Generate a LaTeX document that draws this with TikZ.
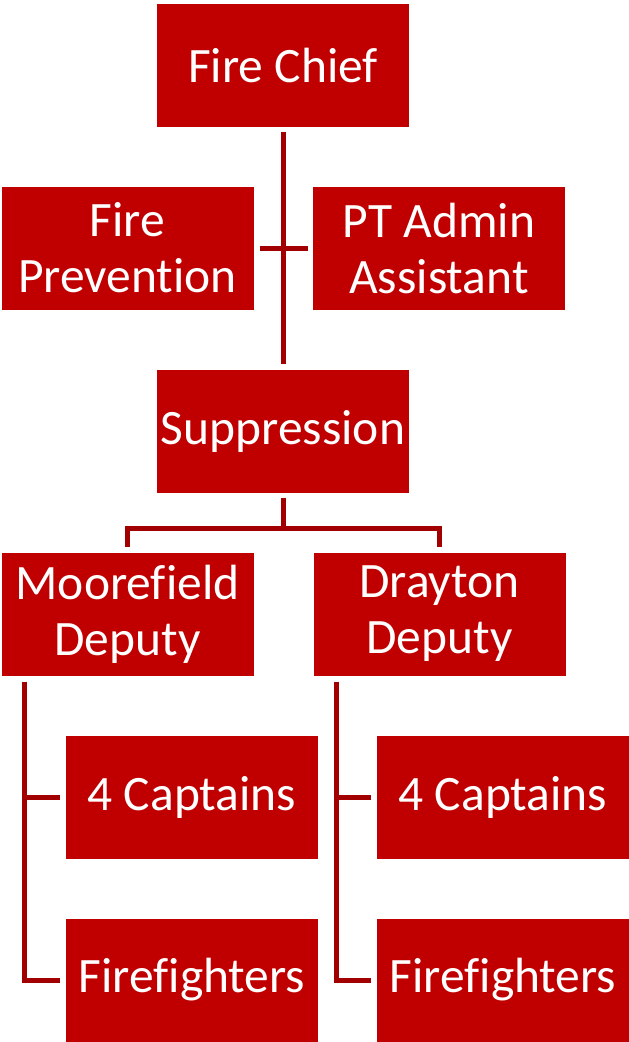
\documentclass[tikz,border=0pt]{standalone}
\usepackage{fontspec}
\setmainfont{Carlito}[Ligatures=CommonOff]
\definecolor{boxred}{HTML}{C00000}
\definecolor{linered}{HTML}{A20000}
\begin{document}
\begin{tikzpicture}[x=1pt,y=-1pt,
  orgbox/.style={rectangle, fill=boxred, draw=none, minimum width=252pt, minimum height=123pt,
    inner sep=0pt, text=white, align=center, font=\fontsize{49.5pt}{56pt}\selectfont},
  conn/.style={draw=linered, line width=5pt, line join=miter}]
\fill[white] (0,0) rectangle (629,1042);
\useasboundingbox (0,0) rectangle (629,1042);
\node[orgbox] (chief) at (283,65.5) {Fire Chief};
\node[orgbox] (prev) at (127.5,248) {Fire\\Prevention};
\node[orgbox] (admin) at (439,248) {PT Admin\\Assistant};
\node[orgbox] (supp) at (283,431) {Suppression};
\node[orgbox] (moore) at (127.5,614) {Moorefield\\Deputy};
\node[orgbox] (dray) at (439.5,614) {Drayton\\Deputy};
\node[orgbox] (cap1) at (192,797) {4 Captains};
\node[orgbox] (ff1) at (192,980) {Firefighters};
\node[orgbox] (cap2) at (503,797) {4 Captains};
\node[orgbox] (ff2) at (503,980) {Firefighters};
% connectors
\draw[conn, shorten <=5pt, shorten >=5pt] (chief) -- (supp);
\draw[conn, shorten <=6pt, shorten >=5pt] (prev) -- (admin);
\draw[conn] ([yshift=-5pt]supp.south) -- ++(0,31) -| ([yshift=5pt]moore.north);
\draw[conn] ([yshift=-5pt]supp.south) -- ++(0,31) -| ([yshift=5pt]dray.north);
\draw[conn] ([xshift=-103.5pt,yshift=-6pt]moore.south) |- ([xshift=-6pt]ff1.west);
\draw[conn] ([xshift=-103.5pt]moore.south |- cap1.west) -- ([xshift=-6pt]cap1.west);
\draw[conn] ([xshift=-103.5pt,yshift=-6pt]dray.south) |- ([xshift=-6pt]ff2.west);
\draw[conn] ([xshift=-103.5pt]dray.south |- cap2.west) -- ([xshift=-6pt]cap2.west);
\end{tikzpicture}
\end{document}
